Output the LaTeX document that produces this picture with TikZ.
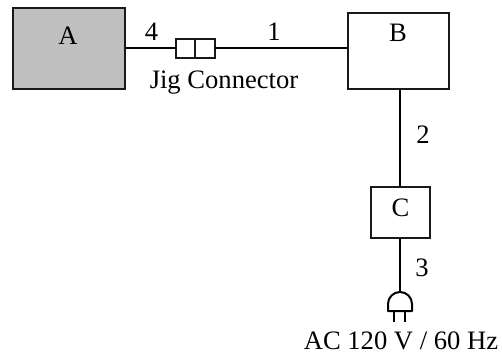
\documentclass[tikz,border=0pt]{standalone}
\usepackage{fontspec}
\setmainfont{Liberation Serif}
\begin{document}
\begin{tikzpicture}[x=1pt,y=-1pt,line width=2pt,
  block/.style={draw=black!90,rectangle,inner sep=0pt,outer sep=0pt},
  lbl/.style={inner sep=0pt,outer sep=0pt,anchor=base,font=\fontsize{26.6}{30}\selectfont},
  wire/.style={draw=black}]
\useasboundingbox (0,0) rectangle (502,354);
\node[block,fill=black!25,minimum width=111.5pt,minimum height=81pt] (a) at (68.75,48.3) {};
\node[block,minimum width=101pt,minimum height=76.5pt] (b) at (398.5,50.75) {};
\node[block,minimum width=59.5pt,minimum height=51pt] (c) at (400.5,212.5) {};
\node[block,minimum width=19pt,minimum height=19pt] (jl) at (185.5,48.3) {};
\node[block,minimum width=19.5pt,minimum height=19pt] (jr) at (204.75,48.3) {};
\coordinate (ptop) at (400,292);
\coordinate (bdown) at (400,89);
\coordinate (cup) at (400,187);
\coordinate (cdown) at (400,238);
\draw[wire] (a.east) -- (jl.west);
\draw[wire] (jr.east) -- (jr.east -| b.west);
\draw[wire] (bdown) -- (cup);
\draw[wire] (cdown) -- (ptop);
\draw[draw=black,line join=round] (388,311) -- (388,304) arc[start angle=180,end angle=0,x radius=12,y radius=-12] -- (412,311) -- cycle;
\draw[draw=black] (393.5,311) -- (393.5,322) (405,311) -- (405,322);
\node[lbl] (la) at (68,44) {A};
\node[lbl] (lb) at (398,41.5) {B};
\node[lbl] (lc) at (400.5,216) {C};
\node[lbl] (l4) at (151.5,40) {4};
\node[lbl] (l1) at (274,40) {1};
\node[lbl] (l2) at (423,143) {2};
\node[lbl] (l3) at (422,276) {3};
\node[lbl] (lj) at (224,88) {Jig Connector};
\node[lbl] (lac) at (401,349) {AC 120 V / 60 Hz};
\end{tikzpicture}
\end{document}
